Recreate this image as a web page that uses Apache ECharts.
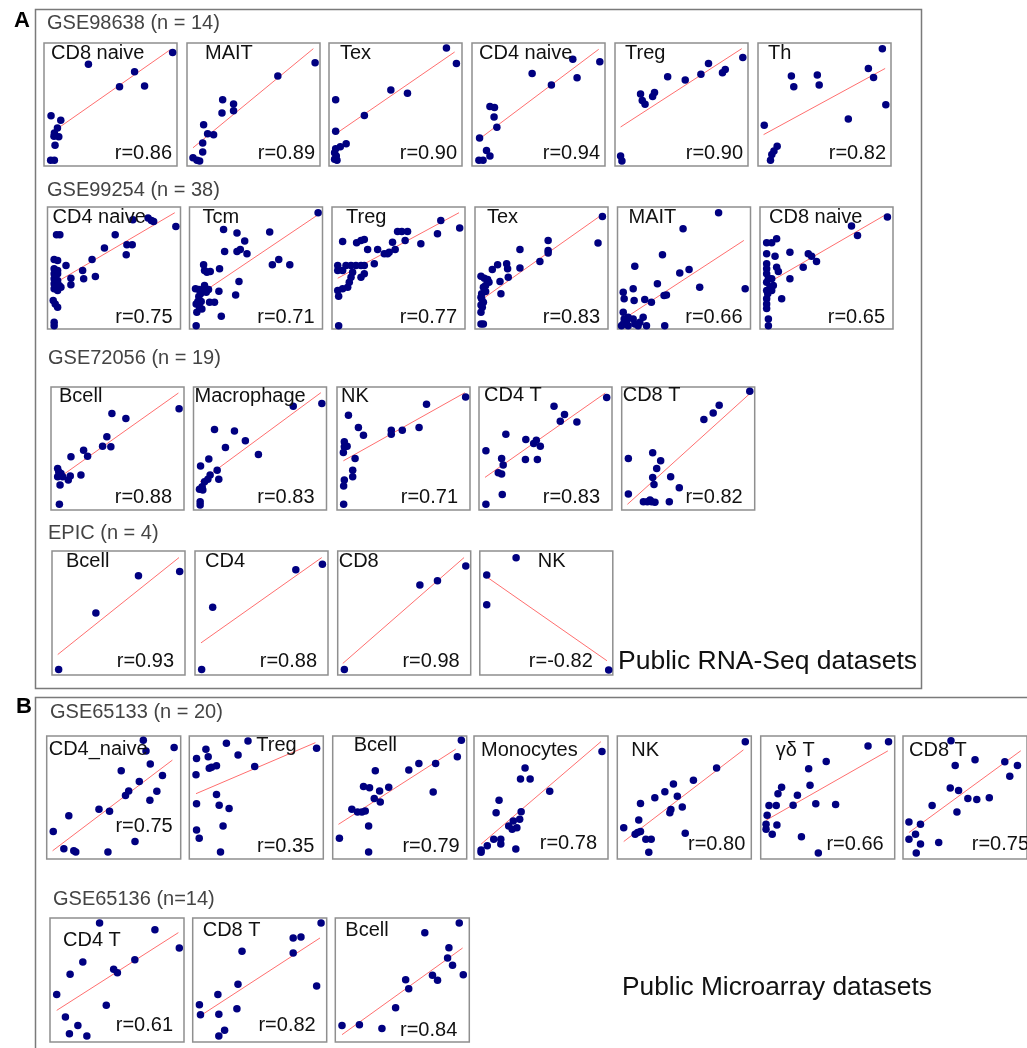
<!DOCTYPE html>
<html><head><meta charset="utf-8">
<script src="https://cdn.jsdelivr.net/npm/echarts@6/dist/echarts.min.js"></script>
<style>html,body{margin:0;padding:0;background:#fff}#c{width:1027px;height:1048px}</style>
</head><body><div id="c"></div>
<script>
// ================= DATA (each panel scaled 0..100 on both axes) =================
const sectionTitles = ['GSE98638 (n = 14)', 'GSE99254 (n = 38)', 'GSE72056 (n = 19)', 'EPIC (n = 4)', 'GSE65133 (n = 20)', 'GSE65136 (n=14)'];
const bigLabels = ['A', 'B'];
const footnotes = ['Public RNA-Seq datasets', 'Public Microarray datasets'];

// ---- GSE98638 ----
const cellsA1 = ['CD8 naive', 'MAIT', 'Tex', 'CD4 naive', 'Treg', 'Th'];
const rA1 = ['0.86', '0.89', '0.90', '0.94', '0.90', '0.82'];
const A1_CD8naive = [[96.7,92.2],[33.4,82.8],[68.1,76.6],[56.8,64.5],[75.6,65.1],[5.3,40.9],[12.6,37.1],[10.1,30.9],[7.8,26.9],[11.1,23.7],[7.5,24.2],[8.3,16.9],[5.0,4.6],[7.8,4.6]];
const A1_MAIT = [[96.3,83.9],[68.3,73.1],[26.8,53.8],[35.0,50.5],[35.0,44.9],[26.3,43.0],[12.5,33.6],[15.5,26.3],[20.0,25.5],[11.8,18.8],[11.8,11.3],[4.5,6.7],[7.5,4.6],[9.5,4.0]];
const A1_Tex = [[88.3,96.0],[95.8,83.3],[46.5,61.8],[59.0,59.1],[26.6,41.1],[5.0,53.8],[5.0,28.2],[12.9,18.0],[8.5,15.6],[5.0,14.0],[4.2,10.8],[5.5,8.1],[6.0,4.6],[4.2,5.4]];
const A1_CD4naive = [[96.1,84.7],[75.8,86.8],[79.0,71.8],[45.2,75.3],[59.7,65.9],[13.5,48.4],[16.9,47.6],[16.6,39.8],[18.7,31.5],[5.7,22.8],[10.9,12.6],[13.5,8.1],[5.2,4.6],[8.3,4.6]];
const A1_Treg = [[96.1,88.2],[82.9,78.5],[80.8,75.8],[70.3,83.3],[64.6,74.5],[52.8,69.9],[39.6,72.6],[29.7,59.7],[28.3,56.5],[19.2,58.6],[20.5,53.2],[22.6,50.3],[4.2,8.1],[5.2,4.0]];
const A1_Th = [[93.5,95.4],[83.0,79.3],[86.9,72.0],[96.1,49.7],[67.9,38.2],[25.1,73.1],[26.9,64.5],[44.6,73.9],[46.0,65.9],[4.7,33.1],[14.4,16.1],[12.0,12.1],[10.4,9.4],[9.4,4.6]];
const fitA1 = [[10.8,30.9,95,94.6],[4.5,14.8,95,95.4],[4.2,25.5,94.5,92.7],[8.3,24.2,95.3,94.9],[4.2,31.7,95.3,95.4],[4.2,25.5,95.6,79.3]];

// ---- GSE99254 ----
const cellsA2 = ['CD4 naive', 'Tcm', 'Treg', 'Tex', 'MAIT', 'CD8 naive'];
const rA2 = ['0.75', '0.71', '0.77', '0.83', '0.66', '0.65'];
const A2_CD4naive = [[96.5,84.1],[75.6,90.9],[78.1,89.0],[79.8,88.2],[64.2,89.6],[50.9,77.3],[42.8,66.3],[59.7,69.0],[63.7,69.0],[59.2,60.8],[33.5,57.0],[26.4,47.9],[27.2,41.1],[36.0,43.0],[17.6,41.6],[17.6,36.2],[13.9,52.1],[6.8,77.3],[9.3,77.3],[5.0,57.0],[7.6,56.2],[5.0,49.3],[7.6,47.9],[5.0,45.2],[7.6,45.2],[5.0,41.1],[7.6,39.7],[5.0,37.0],[8.8,35.6],[10.1,34.2],[5.0,32.9],[7.6,31.5],[4.3,23.3],[5.8,20.5],[7.6,17.8],[5.0,5.5],[5.0,2.7],[6.3,34.2]];
const A2_Tcm = [[96.7,95.3],[60.3,79.5],[35.7,78.6],[25.6,81.6],[41.5,72.1],[26.4,63.6],[35.7,63.6],[38.2,65.2],[43.2,61.6],[62.3,52.6],[67.1,57.0],[75.4,52.6],[22.6,49.3],[10.6,52.6],[11.3,47.9],[13.1,46.6],[15.6,47.1],[37.2,38.9],[7.0,32.3],[4.5,32.9],[11.3,35.6],[10.1,32.3],[14.3,32.3],[22.1,31.0],[6.3,22.5],[8.8,22.5],[15.1,21.9],[18.8,21.9],[34.7,27.9],[5.0,20.5],[7.5,17.8],[5.5,13.7],[23.9,10.4],[5.0,2.7],[9.3,16.4],[7.0,26.6],[12.6,30.1],[8.3,28.8]];
const A2_Treg = [[96.0,82.7],[81.8,89.0],[79.3,78.1],[66.8,69.9],[55.0,72.6],[49.3,80.0],[52.5,80.0],[56.8,80.0],[45.5,71.2],[47.5,65.2],[43.0,63.0],[39.3,61.6],[41.8,61.6],[34.3,65.2],[26.8,65.2],[24.3,73.4],[18.5,70.7],[21.8,72.6],[8.0,71.8],[31.8,53.4],[24.3,52.1],[21.8,52.1],[18.0,52.1],[14.3,52.1],[10.5,52.1],[4.3,52.1],[8.0,47.9],[4.3,47.9],[15.5,46.6],[24.3,45.2],[21.8,42.5],[14.3,42.5],[13.0,38.4],[11.8,34.2],[8.0,32.9],[4.3,31.5],[5.0,26.8],[5.0,2.7]];
const A2_Tex = [[95.8,92.3],[92.5,70.4],[55.0,72.6],[55.0,64.4],[55.0,62.2],[48.8,55.3],[33.8,65.2],[33.8,50.1],[23.8,53.4],[24.5,49.3],[25.0,42.5],[17.0,52.6],[13.0,48.8],[18.8,38.9],[19.5,28.8],[4.5,43.3],[7.0,41.6],[9.5,40.5],[10.5,38.4],[8.0,35.6],[6.3,34.2],[5.0,28.8],[4.5,26.0],[6.3,21.9],[4.5,19.7],[5.5,17.8],[4.5,13.7],[4.5,4.1],[6.3,4.1],[5.0,24.7],[8.0,30.7]];
const A2_MAIT = [[76.0,95.3],[49.3,82.2],[33.8,60.8],[13.0,51.5],[53.8,48.8],[46.8,46.0],[30.0,37.0],[61.8,34.2],[96.0,32.9],[11.8,32.9],[4.3,30.1],[5.0,24.7],[12.5,23.3],[20.5,24.1],[25.5,21.9],[35.0,27.4],[36.8,27.9],[4.3,13.7],[8.0,9.6],[11.8,8.2],[19.3,9.6],[16.8,5.5],[21.8,2.7],[35.5,2.7],[4.3,4.1],[8.0,2.7],[13.0,4.1],[5.0,8.2],[6.8,6.0],[15.5,2.7],[3.0,2.7]];
const A2_CD8naive = [[95.8,91.8],[68.8,84.4],[73.3,76.7],[36.3,61.6],[38.8,59.7],[42.5,55.3],[32.5,50.7],[22.5,63.0],[12.5,74.0],[8.8,70.7],[5.0,70.7],[11.3,59.7],[5.0,61.6],[5.0,53.4],[5.0,49.3],[12.5,50.7],[13.8,47.1],[5.0,45.2],[6.3,41.6],[22.5,41.1],[8.8,41.1],[5.0,38.4],[10.0,35.6],[7.5,34.2],[5.0,31.5],[5.8,28.8],[16.3,24.7],[5.0,24.7],[5.0,20.5],[5.0,16.9],[6.3,8.2],[6.3,2.7],[8.8,31.5]];
const fitA2 = [[10.1,40.5,95.7,95.3],[4.5,26.0,96.7,93.7],[4.3,41.6,95.5,95.3],[7.5,26.0,95.5,93.7],[8.5,11.0,95,72.6],[8.3,39.2,95,94.0]];

// ---- GSE72056 ----
const cellsA3 = ['Bcell', 'Macrophage', 'NK', 'CD4 T', 'CD8 T'];
const rA3 = ['0.88', '0.83', '0.71', '0.83', '0.82'];
const A3_Bcell = [[96.3,82.4],[45.8,78.4],[56.3,74.3],[42.0,59.5],[38.8,51.9],[45.0,51.4],[24.5,48.6],[27.5,43.8],[15.0,43.2],[22.5,28.4],[14.5,27.6],[13.0,24.3],[5.0,33.8],[5.8,31.1],[7.5,29.7],[5.0,27.0],[8.8,27.0],[6.8,20.3],[6.3,4.6]];
const A3_Macrophage = [[96.5,86.5],[75.0,84.3],[15.8,65.4],[30.8,64.3],[39.0,56.2],[24.0,50.8],[48.8,45.1],[11.5,41.4],[5.3,35.7],[17.8,32.4],[12.5,28.4],[10.8,24.9],[19.0,24.9],[8.3,23.0],[6.5,18.9],[4.5,16.8],[7.0,16.2],[5.0,6.8],[5.0,4.1]];
const A3_NK = [[96.7,91.9],[67.3,85.9],[61.7,67.0],[49.1,64.9],[40.8,64.9],[40.8,61.6],[8.6,77.0],[16.1,67.0],[19.9,60.8],[5.5,55.4],[7.6,51.9],[5.5,51.4],[4.8,46.8],[13.6,41.9],[11.8,32.4],[11.8,27.0],[5.5,24.3],[5.0,19.5],[5.0,4.6]];
const A3_CD4T = [[96.0,91.4],[56.4,84.3],[64.3,77.6],[61.1,72.2],[73.6,71.6],[20.2,61.6],[35.2,57.3],[43.1,56.8],[41.1,54.1],[46.1,51.9],[34.9,41.1],[43.9,41.1],[17.0,41.9],[18.2,36.5],[14.5,30.3],[17.0,29.2],[5.2,48.1],[17.5,12.7],[5.2,4.6]];
const A3_CD8T = [[96.3,96.5],[73.3,85.1],[68.8,78.9],[61.8,73.5],[23.3,46.5],[29.3,40.0],[26.3,33.8],[5.0,41.9],[36.8,27.0],[23.3,26.5],[24.3,20.8],[43.3,18.1],[5.0,13.0],[16.3,6.8],[19.3,6.8],[22.5,6.8],[25.0,6.2],[35.8,6.8],[21.3,8.1]];
const fitA3 = [[8.8,28.4,95.8,95.1],[5.0,23.0,95.8,95.4],[4.8,40.0,96.2,95.4],[4.5,26.5,95.0,95.1],[4.3,4.6,95.8,94.1]];

// ---- EPIC ----
const cellsA4 = ['Bcell', 'CD4', 'CD8', 'NK'];
const rA4 = ['0.93', '0.88', '0.98', '-0.82'];
const A4_Bcell = [[96.0,83.5],[65.0,80.0],[33.0,49.9],[5.0,4.5]];
const A4_CD4 = [[95.8,89.3],[75.8,84.8],[13.3,54.7],[5.0,4.5]];
const A4_CD8 = [[96.3,88.0],[75.0,76.0],[61.8,72.5],[5.0,4.5]];
const A4_NK = [[27.3,94.6],[5.2,80.7],[5.2,56.6],[96.9,4.0]];
const fitA4 = [[4.3,16.5,95.5,94.7],[4.5,25.9,95.3,94.7],[3.8,9.3,95,94.7],[5.2,79.1,95.6,11.5]];

// ---- GSE65133 ----
const cellsB1 = ['CD4_naive', 'Treg', 'Bcell', 'Monocytes', 'NK', 'γδ T', 'CD8 T'];
const rB1 = ['0.75', '0.35', '0.79', '0.78', '0.80', '0.66', '0.75'];
const B1_CD4naive = [[72.1,96.5],[74.1,87.9],[95.1,90.6],[77.3,77.2],[55.6,71.8],[86.4,67.8],[69.1,63.0],[61.2,55.2],[58.8,51.7],[82.2,55.0],[77.0,47.7],[39.0,40.5],[46.9,38.9],[16.5,35.1],[4.9,22.3],[12.8,8.3],[20.2,6.7],[21.7,5.6],[45.7,5.6],[65.9,14.2]];
const B1_Treg = [[27.7,94.1],[43.8,96.0],[95.0,90.1],[36.4,84.5],[12.4,89.3],[14.1,83.1],[5.4,81.8],[5.0,68.4],[14.9,73.7],[16.6,74.5],[20.3,75.9],[48.8,75.3],[20.3,52.5],[22.3,43.7],[29.7,41.0],[5.4,45.0],[25.2,26.8],[5.4,23.6],[7.4,16.9],[23.3,5.6]];
const B1_Bcell = [[96.0,96.5],[93.0,83.1],[76.8,77.7],[64.3,77.7],[56.8,72.4],[31.8,71.8],[23.0,59.0],[27.5,57.9],[35.0,55.2],[41.8,58.4],[31.0,49.1],[35.5,46.4],[14.3,40.5],[18.5,38.3],[21.8,38.3],[24.3,39.1],[75.0,54.4],[26.8,26.8],[5.0,16.9],[26.8,5.6]];
const B1_Monocytes = [[95.5,87.4],[38.1,73.9],[34.7,65.1],[41.9,65.1],[56.5,55.1],[18.7,47.8],[16.5,37.6],[35.2,38.4],[34.1,32.3],[29.3,30.9],[25.9,26.9],[28.5,24.2],[32.0,25.5],[14.7,16.1],[20.0,16.1],[20.0,12.1],[31.2,8.1],[9.9,10.8],[5.3,7.3],[5.3,5.4]];
const B1_NK = [[95.5,95.4],[74.1,73.9],[56.8,64.0],[41.9,61.0],[35.5,54.6],[28.0,49.7],[44.8,51.1],[17.3,45.2],[48.5,42.2],[40.0,40.3],[39.2,37.6],[16.0,31.7],[4.8,25.5],[13.3,20.2],[17.3,22.3],[21.3,16.1],[25.3,16.1],[50.7,21.0],[23.5,5.4],[15.2,21.5]];
const B1_gdT = [[95.4,95.4],[80.1,91.9],[48.9,79.3],[35.8,73.4],[36.8,59.9],[15.6,58.3],[12.9,53.0],[27.4,51.9],[24.2,43.8],[41.1,44.9],[55.9,44.4],[6.2,43.5],[11.6,43.5],[4.8,35.5],[4.0,28.2],[12.1,27.7],[4.0,24.2],[8.6,20.2],[30.4,18.0],[43.0,4.8]];
const B1_CD8T = [[38.7,96.2],[82.1,79.0],[58.1,80.6],[42.1,76.1],[86.1,67.2],[38.1,57.8],[44.8,55.6],[23.5,43.5],[52.3,49.2],[59.5,48.4],[69.6,49.7],[43.5,38.2],[4.8,30.1],[14.1,28.2],[10.1,20.2],[4.8,16.1],[14.1,12.1],[28.8,13.4],[10.7,4.8],[92.3,76.1]];
const fitB1 = [[4.4,6.7,93.8,80.4],[5.0,53.1,94.1,94.6],[4.3,28.2,91.8,89.3],[5.3,12.1,94.7,95.4],[4.8,14.2,94.1,88.7],[4.0,31.5,94.9,87.9],[4.8,21.5,95,88.0]];

// ---- GSE65136 ----
const cellsB2 = ['CD4 T', 'CD8 T', 'Bcell'];
const rB2 = ['0.61', '0.82', '0.84'];
const B2_CD4T = [[37.0,96.0],[78.3,90.6],[96.5,75.8],[63.3,66.4],[47.5,58.6],[50.3,55.9],[24.5,64.5],[15.0,54.6],[5.0,38.4],[42.0,29.6],[11.5,20.2],[20.8,13.4],[14.5,6.7],[27.5,4.8]];
const B2_CD8T = [[95.8,96.0],[75.0,83.9],[80.8,84.7],[75.0,71.8],[36.8,73.1],[92.5,45.2],[33.8,46.5],[18.8,38.4],[5.0,30.1],[5.8,22.0],[19.5,22.3],[33.0,26.9],[23.8,9.4],[19.5,4.8]];
const B2_Bcell = [[92.5,96.0],[66.8,88.2],[84.8,76.1],[83.8,67.7],[87.5,61.8],[95.5,54.3],[72.5,53.8],[76.3,49.7],[52.5,50.3],[54.8,43.0],[45.0,27.7],[5.0,13.4],[18.0,14.0],[34.8,10.8]];
const fitB2 = [[5.0,25.5,95.8,88.2],[5.5,21.0,95.0,83.9],[5.0,5.9,95.0,75.8]];

// ================= LAYOUT (pixels) =================
const FONT = '"Liberation Sans", Arial, Helvetica, sans-serif';
const rows = [
  {title:0, tx:47, ty:23, top:43, w:133, h:123, lefts:[44,187,329,472,615,758], cells:cellsA1, r:rA1, pts:[A1_CD8naive,A1_MAIT,A1_Tex,A1_CD4naive,A1_Treg,A1_Th], fit:fitA1,
   tdx:[7,18,11,7,10,10], tdy:[10,10,10,10,10,10], rdx:[5,5,5,5,5,5], rdy:[13,13,13,13,13,13]},
  {title:1, tx:47, ty:190, top:207, w:133, h:122, lefts:[47.5,189.5,332,475,617.5,760], cells:cellsA2, r:rA2, pts:[A2_CD4naive,A2_Tcm,A2_Treg,A2_Tex,A2_MAIT,A2_CD8naive], fit:fitA2,
   tdx:[5,13,14,12,11,9], tdy:[10,10,10,10,10,10], rdx:[8,8,8,8,8,8], rdy:[12,12,12,12,12,12]},
  {title:2, tx:48, ty:358, top:387, w:133, h:123, lefts:[51,193.5,337,479,621.7], cells:cellsA3, r:rA3, pts:[A3_Bcell,A3_Macrophage,A3_NK,A3_CD4T,A3_CD8T], fit:fitA3,
   tdx:[8,1,4,5,1], tdy:[9,9,9,8,8], rdx:[12,12,12,12,12], rdy:[13,13,13,13,13]},
  {title:3, tx:48, ty:533, top:551, w:133, h:124, lefts:[52,195,337.7,479.8], cells:cellsA4, r:rA4, pts:[A4_Bcell,A4_CD4,A4_CD8,A4_NK], fit:fitA4,
   tdx:[14,10,1,58], tdy:[10,10,10,10], rdx:[11,11,11,20], rdy:[14,14,14,14]},
  {title:4, tx:50, ty:712, top:736, w:134, h:123, lefts:[46.7,189.3,332.7,474,617.3,760.7,903], cells:cellsB1, r:rB1, pts:[B1_CD4naive,B1_Treg,B1_Bcell,B1_Monocytes,B1_NK,B1_gdT,B1_CD8T], fit:fitB1,
   tdx:[2,67,21,7,14,15,6], tdy:[13,9,9,14,14,14,14], rdx:[8,9,7,11,6,11,8], rdy:[33,13,13,16,15,15,15]},
  {title:5, tx:53, ty:899, top:918, w:134, h:124, lefts:[50,192.7,335.3], cells:cellsB2, r:rB2, pts:[B2_CD4T,B2_CD8T,B2_Bcell], fit:fitB2,
   tdx:[13,10,10], tdy:[22,12,12], rdx:[11,11,12], rdy:[17,17,12]}
];

const grids = [], xAxes = [], yAxes = [], series = [], graphics = [];

// outer frames
graphics.push({type:'rect', shape:{x:35.5, y:9.5, width:886, height:679}, style:{fill:'none', stroke:'#7a7a7a', lineWidth:1.5}, z:1});
graphics.push({type:'rect', shape:{x:35.5, y:697.5, width:1100, height:500}, style:{fill:'none', stroke:'#7a7a7a', lineWidth:1.5}, z:1});
graphics.push({type:'text', x:22, y:21, style:{text:bigLabels[0], font:'bold 22px ' + FONT, fill:'#000', textAlign:'center', textVerticalAlign:'middle'}});
graphics.push({type:'text', x:24, y:707, style:{text:bigLabels[1], font:'bold 22px ' + FONT, fill:'#000', textAlign:'center', textVerticalAlign:'middle'}});
graphics.push({type:'text', x:618, y:662, style:{text:footnotes[0], font:'26.5px ' + FONT, fill:'#111', textAlign:'left', textVerticalAlign:'middle'}});
graphics.push({type:'text', x:622, y:988, style:{text:footnotes[1], font:'26.3px ' + FONT, fill:'#111', textAlign:'left', textVerticalAlign:'middle'}});

let gi = 0;
rows.forEach(row => {
  graphics.push({type:'text', x:row.tx, y:row.ty, style:{text:sectionTitles[row.title], font:'20px ' + FONT, fill:'#444', textAlign:'left', textVerticalAlign:'middle'}});
  row.lefts.forEach((left, k) => {
    grids.push({left:left, top:row.top, width:row.w, height:row.h, show:true, borderColor:'#8f8f8f', borderWidth:1.5, backgroundColor:'transparent'});
    xAxes.push({type:'value', gridIndex:gi, min:0, max:100, show:false});
    yAxes.push({type:'value', gridIndex:gi, min:0, max:100, show:false});
    const f = row.fit[k];
    series.push({type:'line', xAxisIndex:gi, yAxisIndex:gi, data:[[f[0],f[1]],[f[2],f[3]]], symbol:'none', silent:true,
      lineStyle:{color:'#ff6f6f', width:1}, z:2});
    series.push({type:'scatter', xAxisIndex:gi, yAxisIndex:gi, data:row.pts[k], symbol:'circle', symbolSize:7.5, clip:false,
      itemStyle:{color:'#000080', opacity:1}, silent:true, z:3});
    graphics.push({type:'text', x:left + row.tdx[k], y:row.top + row.tdy[k], z:10,
      style:{text:row.cells[k], font:'20px ' + FONT, fill:'#111', textAlign:'left', textVerticalAlign:'middle'}});
    graphics.push({type:'text', x:left + row.w - row.rdx[k], y:row.top + row.h - row.rdy[k], z:10,
      style:{text:'r=' + row.r[k], font:'20px ' + FONT, fill:'#111', textAlign:'right', textVerticalAlign:'middle'}});
    gi++;
  });
});

const chart = echarts.init(document.getElementById('c'), null, {renderer:'canvas'});
chart.setOption({animation:false, backgroundColor:'#fff', grid:grids, xAxis:xAxes, yAxis:yAxes, series:series, graphic:graphics});
</script>
</body></html>
